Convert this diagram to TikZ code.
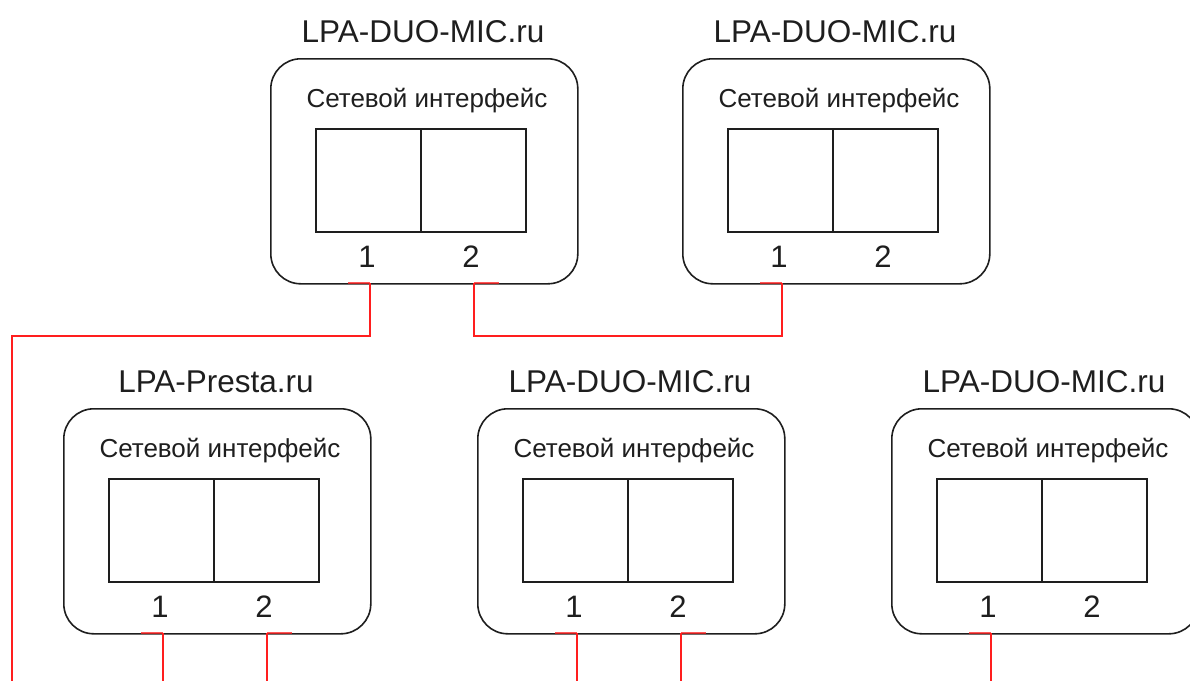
\documentclass[tikz,border=0pt]{standalone}
\usepackage{fontspec}
\setmainfont{Liberation Sans}
\definecolor{cablered}{RGB}{255,30,30}
\definecolor{ink}{RGB}{30,30,30}
\tikzset{
  devbox/.style={draw=ink, line width=1.6pt, rounded corners=30pt, minimum width=307pt, minimum height=225pt, inner sep=0pt, anchor=north west},
  portbox/.style={draw=ink, line width=1.6pt, minimum width=105pt, minimum height=103pt, inner sep=0pt, anchor=north west},
  devtitle/.style={font=\fontsize{31.5}{36}\selectfont, text=ink, anchor=base, inner sep=0pt},
  devlabel/.style={font=\fontsize{26}{30}\selectfont, text=ink, anchor=base, inner sep=0pt},
  portnum/.style={font=\fontsize{31}{36}\selectfont, text=ink, anchor=base, inner sep=0pt},
  cable/.style={draw=cablered, line width=2pt},
  portmark/.style={draw=cablered, opacity=.75, line width=2.5pt}
}
\newcommand\device[4]{%
  \begin{scope}[shift={(#2,#3)}]
    \node[devbox] (#1) at (0,0) {};
    \node[devtitle] (#1-title) at (153,-16) {#4};
    \node[devlabel] (#1-label) at (157,49) {Сетевой интерфейс};
    \node[portbox] (#1-p1) at (45,70) {};
    \node[portbox] (#1-p2) at (150,70) {};
    \node[portnum] (#1-n1) at (97,209) {1};
    \node[portnum] (#1-n2) at (201,209) {2};
    \coordinate (#1-c1) at (100,225);
    \coordinate (#1-c2) at (204,225);
    \coordinate (#1-m1) at (78,225);
    \coordinate (#1-m2) at (229,225);
  \end{scope}
}
\begin{document}
\begin{tikzpicture}[x=1pt,y=-1pt]
  \useasboundingbox (0,0) rectangle (1190,681);
  \clip (0,0) rectangle (1190,681);
  \device{a}{270}{58}{LPA-DUO-MIC.ru}
  \device{b}{682}{58}{LPA-DUO-MIC.ru}
  \device{c}{63}{408}{LPA-Presta.ru}
  \device{d}{477}{408}{LPA-DUO-MIC.ru}
  \device{e}{891}{408}{LPA-DUO-MIC.ru}
  \coordinate (bottom) at (0,681);
  \coordinate (leftend) at (12,681);
  % port marks on box edges
  \draw[portmark] (a-m1) -- (a-c1);
  \draw[portmark] (a-c2) -- (a-m2);
  \draw[portmark] (b-m1) -- (b-c1);
  \draw[portmark] (c-m1) -- (c-c1);
  \draw[portmark] (c-c2) -- (c-m2);
  \draw[portmark] (d-m1) -- (d-c1);
  \draw[portmark] (d-c2) -- (d-m2);
  \draw[portmark] (e-m1) -- (e-c1);
  % cables
  \draw[cable] (a-c1) -- ++(0,53) -| (leftend);
  \draw[cable] (a-c2) -- ++(0,53) -| (b-c1);
  \draw[cable] (c-c1) -- (c-c1 |- bottom);
  \draw[cable] (c-c2) -- (c-c2 |- bottom);
  \draw[cable] (d-c1) -- (d-c1 |- bottom);
  \draw[cable] (d-c2) -- (d-c2 |- bottom);
  \draw[cable] (e-c1) -- (e-c1 |- bottom);
\end{tikzpicture}
\end{document}
